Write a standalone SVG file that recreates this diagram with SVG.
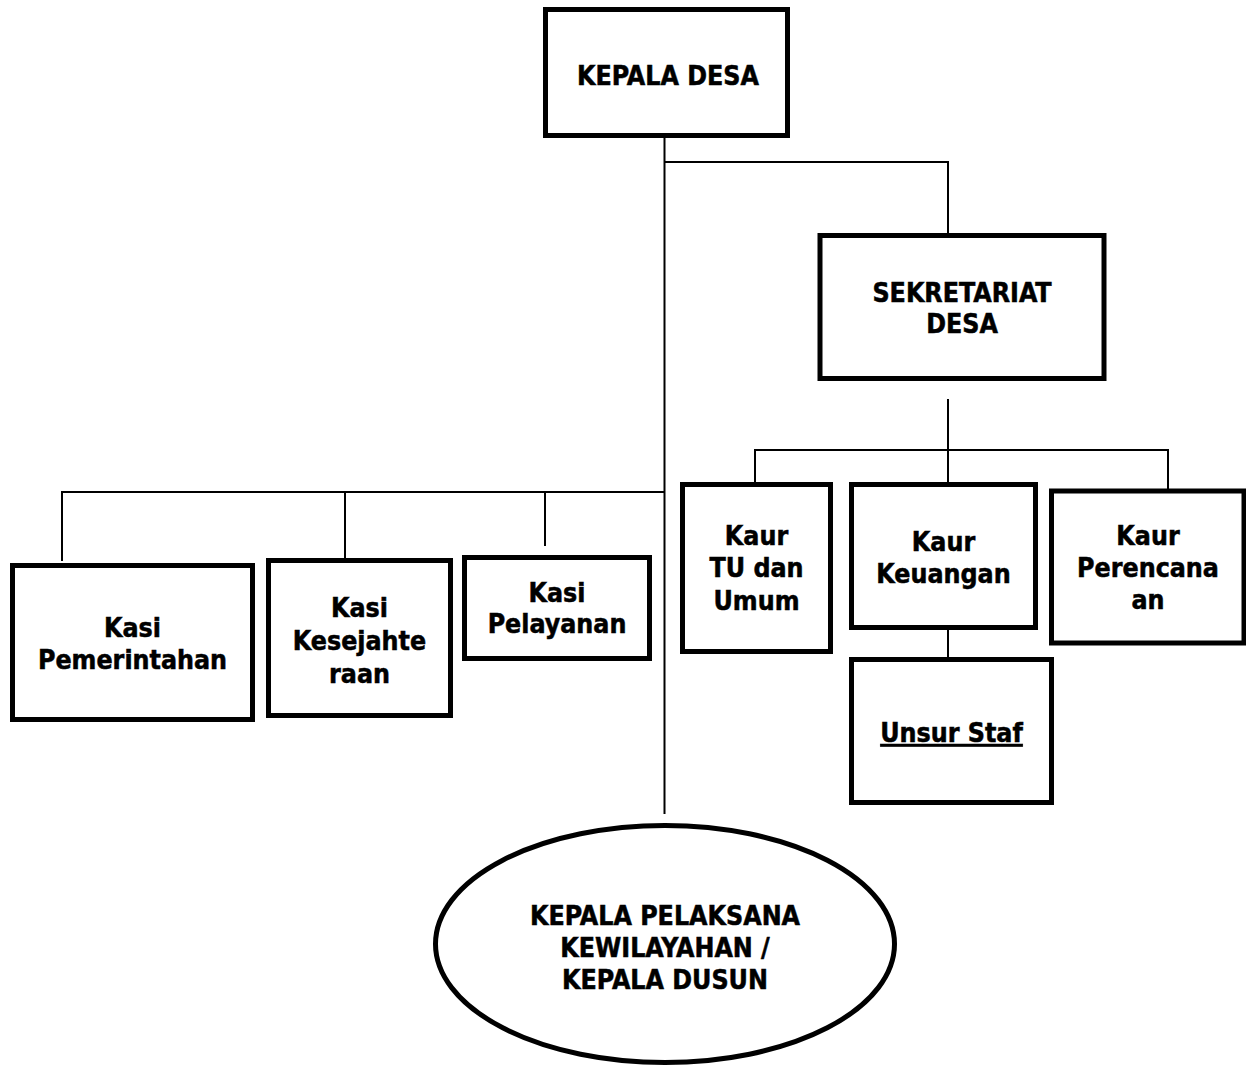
<svg xmlns="http://www.w3.org/2000/svg" width="1246" height="1067" viewBox="0 0 1246 1067">
<style>
.box{fill:#fff;stroke:#000;stroke-width:5}
.ln{fill:none;stroke:#000;stroke-width:2}
text{font-family:"DejaVu Sans Condensed","DejaVu Sans",Verdana,sans-serif;font-stretch:condensed;font-weight:bold;font-size:26.5px;fill:#000;stroke:#000;stroke-width:0.5;text-anchor:middle}
</style>
<rect width="1246" height="1067" fill="#fff"/>
<g id="connectors">
<path class="ln" d="M664.5,137 V814"/>
<path class="ln" d="M664.5,162 H948 V234"/>
<path class="ln" d="M948,399 V483"/>
<path class="ln" d="M755,482 V450 H1168 V489"/>
<path class="ln" d="M62,561 V492 H664.5"/>
<path class="ln" d="M345,492 V558"/>
<path class="ln" d="M545,492 V546"/>
<path class="ln" d="M948,630 V658"/>
</g>
<g id="kepala-desa">
<rect class="box" x="545.5" y="9.5" width="242" height="126"/>
<text x="668" y="85">KEPALA DESA</text>
</g>
<g id="sekretariat-desa">
<rect class="box" x="820" y="235.5" width="284" height="143"/>
<text x="962" y="302">SEKRETARIAT</text>
<text x="962" y="333">DESA</text>
</g>
<g id="kaur-tu">
<rect class="box" x="682.5" y="484.5" width="148" height="167"/>
<text x="756.5" y="545">Kaur</text>
<text x="756.5" y="577">TU dan</text>
<text x="756.5" y="610">Umum</text>
</g>
<g id="kaur-keuangan">
<rect class="box" x="851.5" y="484.5" width="184" height="143"/>
<text x="943.5" y="551">Kaur</text>
<text x="943.5" y="583">Keuangan</text>
</g>
<g id="kaur-perencanaan">
<rect class="box" x="1051.5" y="491" width="192.5" height="152"/>
<text x="1148" y="545">Kaur</text>
<text x="1148" y="577">Perencana</text>
<text x="1148" y="609">an</text>
</g>
<g id="unsur-staf">
<rect class="box" x="851.5" y="659.5" width="200" height="143"/>
<text x="951.5" y="742" text-decoration="underline">Unsur Staf</text>
</g>
<g id="kasi-pemerintahan">
<rect class="box" x="12.5" y="565.5" width="240" height="154"/>
<text x="132.5" y="637">Kasi</text>
<text x="132.5" y="669">Pemerintahan</text>
</g>
<g id="kasi-kesejahteraan">
<rect class="box" x="268.5" y="560.5" width="182" height="155"/>
<text x="359.5" y="617">Kasi</text>
<text x="359.5" y="650">Kesejahte</text>
<text x="359.5" y="683">raan</text>
</g>
<g id="kasi-pelayanan">
<rect class="box" x="464.5" y="557.5" width="185" height="101"/>
<text x="557" y="602">Kasi</text>
<text x="557" y="633">Pelayanan</text>
</g>
<g id="kepala-dusun">
<ellipse class="box" cx="665" cy="944" rx="229.5" ry="118.5"/>
<text x="665" y="925">KEPALA PELAKSANA</text>
<text x="665" y="957">KEWILAYAHAN /</text>
<text x="665" y="989">KEPALA DUSUN</text>
</g>
</svg>
